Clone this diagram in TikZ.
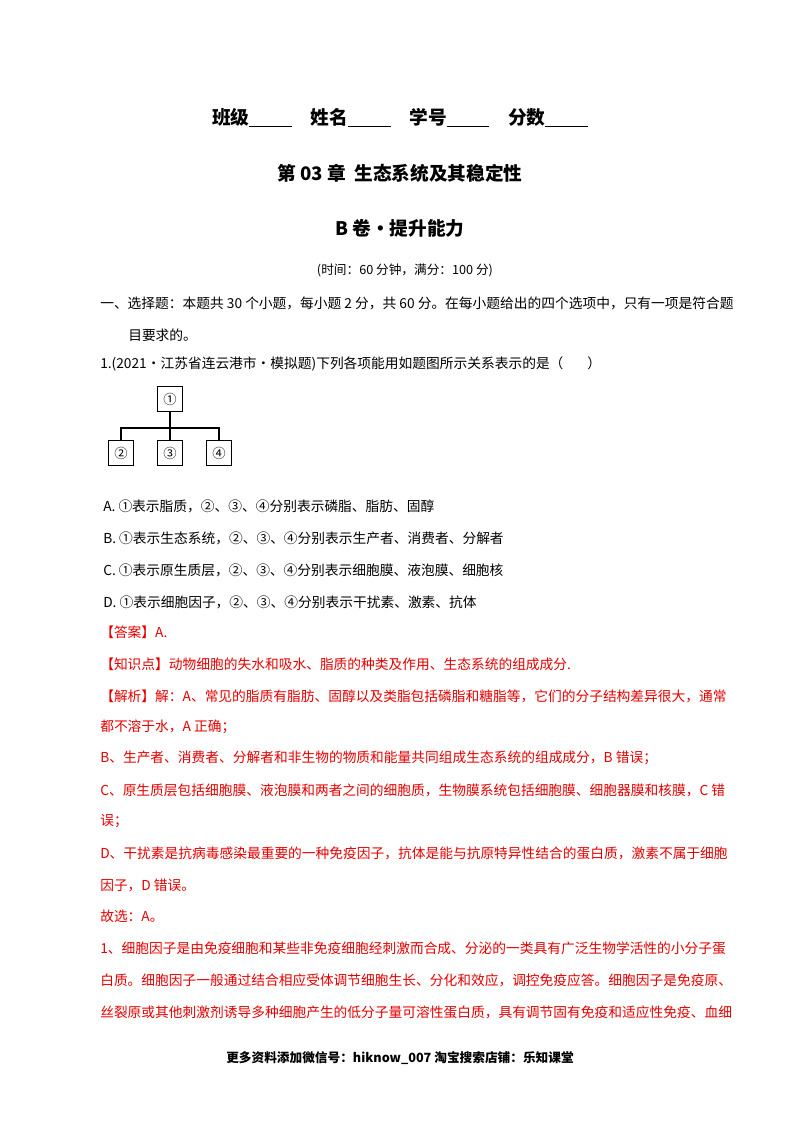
\documentclass[tikz,border=0pt]{standalone}
\usepackage{fontspec}
\setmainfont{Noto Sans CJK SC}
\begin{document}
\begin{tikzpicture}[x=0.75pt,y=-0.75pt,
  body/.style={anchor=west,inner sep=0pt,font=\fontsize{10.3}{12}\selectfont},
  red/.style={body,text=red!90!black},
  title/.style={inner sep=0pt,font=\fontsize{14}{16}\selectfont\bfseries},
  bx/.style={draw,line width=0.8pt,minimum size=19pt,inner sep=0pt,font=\fontsize{10}{11}\selectfont}]
\useasboundingbox (0,0) rectangle (800,1132);
\node[title] (h1) at (400,118) {班级\underline{\hspace{32pt}}\hspace{14pt}姓名\underline{\hspace{32pt}}\hspace{14pt}学号\underline{\hspace{32pt}}\hspace{14pt}分数\underline{\hspace{32pt}}};
\node[title] (h2) at (400,173) {第 03 章\ \ 生态系统及其稳定性};
\node[title] (h3) at (400,228) {B 卷·提升能力};
\node[inner sep=0pt,font=\fontsize{9.5}{11}\selectfont] (h4) at (405,270) {(时间：60 分钟，满分：100 分)};
\node[body] (t1) at (100,303) {一、选择题：本题共 30 个小题，每小题 2 分，共 60 分。在每小题给出的四个选项中，只有一项是符合题};
\node[body] (t2) at (128,335) {目要求的。};
\node[body] (t3) at (100,364) {1.(2021·江苏省连云港市·模拟题)下列各项能用如题图所示关系表示的是（\hspace{18pt}）};
\node[bx] (b1) at (170,399) {①};
\node[bx] (b2) at (121,453) {②};
\node[bx] (b3) at (170,453) {③};
\node[bx] (b4) at (219,453) {④};
\coordinate (j) at (170,428);
\draw[line width=0.8pt] (b1.south) -- (b3.north);
\draw[line width=0.8pt] (b2.north) |- (j) -| (b4.north);
\node[body] (oa) at (103,506) {A. ①表示脂质，②、③、④分别表示磷脂、脂肪、固醇};
\node[body] (ob) at (103,538) {B. ①表示生态系统，②、③、④分别表示生产者、消费者、分解者};
\node[body] (oc) at (103,570) {C. ①表示原生质层，②、③、④分别表示细胞膜、液泡膜、细胞核};
\node[body] (od) at (103,602) {D. ①表示细胞因子，②、③、④分别表示干扰素、激素、抗体};
\node[red] (r1) at (100,632) {【答案】A.};
\node[red] (r2) at (100,664) {【知识点】动物细胞的失水和吸水、脂质的种类及作用、生态系统的组成成分.};
\node[red] (r3) at (100,696) {【解析】解：A、常见的脂质有脂肪、固醇以及类脂包括磷脂和糖脂等，它们的分子结构差异很大，通常};
\node[red] (r4) at (100,727) {都不溶于水，A 正确；};
\node[red] (r5) at (100,758) {B、生产者、消费者、分解者和非生物的物质和能量共同组成生态系统的组成成分，B 错误；};
\node[red] (r6) at (100,790) {C、原生质层包括细胞膜、液泡膜和两者之间的细胞质，生物膜系统包括细胞膜、细胞器膜和核膜，C 错};
\node[red] (r7) at (100,821) {误；};
\node[red] (r8) at (100,853) {D、干扰素是抗病毒感染最重要的一种免疫因子，抗体是能与抗原特异性结合的蛋白质，激素不属于细胞};
\node[red] (r9) at (100,885) {因子，D 错误。};
\node[red] (r10) at (100,916) {故选：A。};
\node[red] (r11) at (100,948) {1、细胞因子是由免疫细胞和某些非免疫细胞经刺激而合成、分泌的一类具有广泛生物学活性的小分子蛋};
\node[red] (r12) at (100,980) {白质。细胞因子一般通过结合相应受体调节细胞生长、分化和效应，调控免疫应答。细胞因子是免疫原、};
\node[red] (r13) at (100,1012) {丝裂原或其他刺激剂诱导多种细胞产生的低分子量可溶性蛋白质，具有调节固有免疫和适应性免疫、血细};
\node[inner sep=0pt,font=\fontsize{9.5}{11}\selectfont\bfseries] (ft) at (400,1058) {更多资料添加微信号：hiknow\_007\ 淘宝搜索店铺：乐知课堂};
\end{tikzpicture}
\end{document}
